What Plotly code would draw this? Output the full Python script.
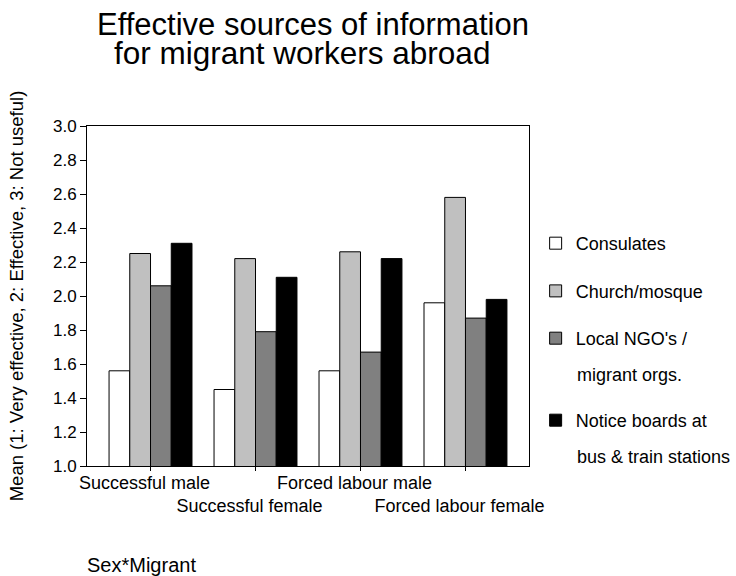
import plotly.graph_objects as go

categories = ["Successful male", "Successful female", "Forced labour male", "Forced labour female"]
tick_labels = ["Successful male", "<br>Successful female", "Forced labour male", "<br>Forced labour female"]
consulates = [1.56, 1.45, 1.56, 1.96]
church_mosque = [2.25, 2.22, 2.26, 2.58]
local_ngos = [2.06, 1.79, 1.67, 1.87]
notice_boards = [2.31, 2.11, 2.22, 1.98]

series = [
    ("Consulates", consulates, "#FFFFFF", "legend"),
    ("Church/mosque", church_mosque, "#C0C0C0", "legend2"),
    ("Local NGO's /", local_ngos, "#808080", "legend3"),
    ("Notice boards at", notice_boards, "#000000", "legend4"),
]
legend_second_lines = [("migrant orgs.", 375), ("bus & train stations", 457)]

FONT = "Liberation Sans, Arial, sans-serif"

fig = go.Figure()
for name, vals, color, lg in series:
    fig.add_trace(go.Bar(
        x=categories, y=vals, name=name, legend=lg, showlegend=True,
        marker=dict(color=color, line=dict(color="#000000", width=1)),
    ))

L, R, T, B = 87, 207, 126, 110
H = 576 - T - B
W = 736 - L - R
def py(pix):
    return (576 - B - pix) / H
def px(pix):
    return (pix - L) / W

leg_common = dict(xanchor="left", yanchor="top", x=1.015, valign="top",
                  font=dict(family=FONT, size=18, color="#000"),
                  bgcolor="rgba(0,0,0,0)", borderwidth=0)
OFF = 0.035 + 0.018

annotations = [
    dict(text="for migrant workers abroad", xref="paper", yref="paper",
         x=px(113), y=py(72), xanchor="left", yanchor="bottom",
         showarrow=False, borderpad=0,
         font=dict(family=FONT, size=31.5, color="#000")),
    dict(text="Sex*Migrant", xref="paper", yref="paper",
         x=px(85), y=py(565), xanchor="left", yanchor="middle",
         showarrow=False, font=dict(family=FONT, size=20, color="#000")),
]
for txt, ypix in legend_second_lines:
    annotations.append(dict(text=txt, xref="paper", yref="paper",
                            x=px(576), y=py(ypix), xanchor="left", yanchor="middle",
                            showarrow=False, borderpad=0,
                            font=dict(family=FONT, size=18, color="#000")))

fig.update_layout(
    width=736, height=576,
    margin=dict(l=L, r=R, t=T, b=B, autoexpand=False),
    paper_bgcolor="white", plot_bgcolor="white",
    font=dict(family=FONT, size=17, color="#000"),
    showlegend=True,
    barmode="group", bargap=0.21, bargroupgap=0,
    title=dict(text="Effective sources of information",
               x=97/736, xanchor="left", xref="container",
               y=1 - 35/576, yanchor="bottom", yref="container",
               pad=dict(t=0, b=0, l=0, r=0),
               font=dict(family=FONT, size=31, color="#000")),
    xaxis=dict(type="category", range=[-0.605, 3.605],
               tickmode="array", tickvals=categories, ticktext=tick_labels,
               tickangle=0, ticklabelshift=-6, ticklabelstandoff=-4,
               ticks="outside", ticklen=4, tickcolor="#000",
               showline=True, linecolor="#000", linewidth=1, mirror=True,
               showgrid=False, tickfont=dict(size=18)),
    yaxis=dict(range=[1.0, 3.0], dtick=0.2, tick0=1.0, tickformat=".1f",
               ticks="outside", ticklen=6, tickcolor="#000",
               showline=True, linecolor="#000", linewidth=1, mirror=True,
               showgrid=False, zeroline=False, tickfont=dict(size=17),
               title=dict(text="Mean (1: Very effective, 2: Effective, 3: Not useful)",
                          font=dict(size=18.5), standoff=24)),
    legend=dict(y=py(243) + OFF, **leg_common),
    legend2=dict(y=py(290.7) + OFF, **leg_common),
    legend3=dict(y=py(338) + OFF, **leg_common),
    legend4=dict(y=py(420) + OFF, **leg_common),
    annotations=annotations,
)

fig.write_html("out.html", config={"displayModeBar": False},
               post_script="document.body.style.margin='0px';document.body.style.padding='0px';")
